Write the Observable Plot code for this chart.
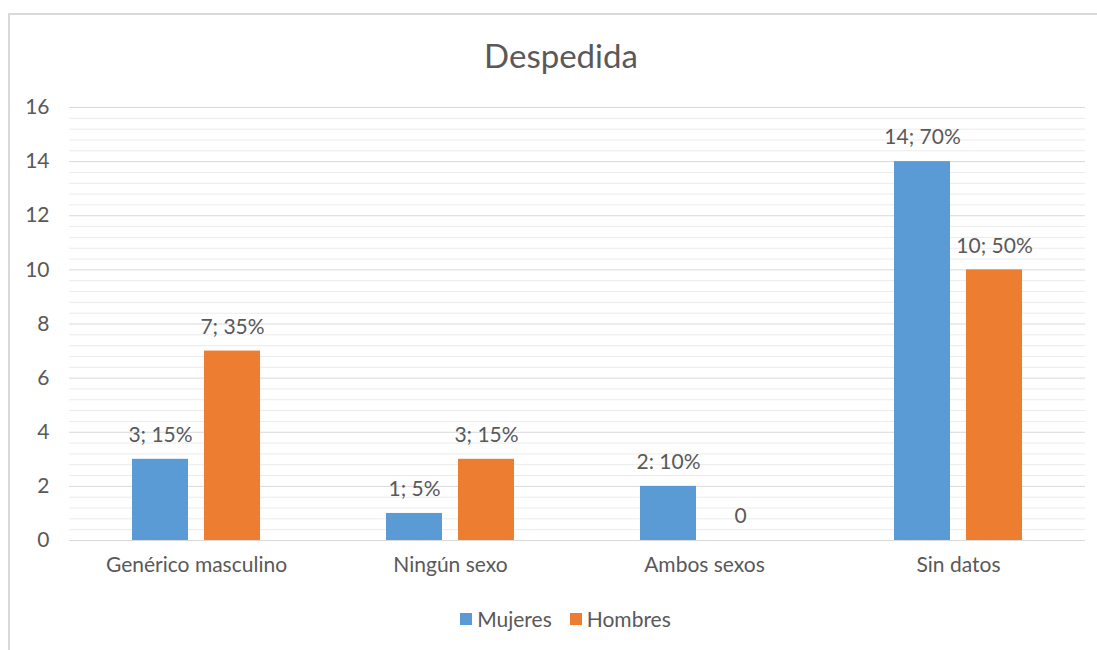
<!DOCTYPE html>
<html>
<head>
<meta charset="utf-8">
<script src="https://cdn.jsdelivr.net/npm/d3@7"></script>
<script src="https://cdn.jsdelivr.net/npm/@observablehq/plot@0.6"></script>
<style>
  html, body { margin: 0; padding: 0; background: #fff; }
  body { width: 1097px; height: 650px; position: relative; overflow: hidden; font-family: Lato, "Open Sans", sans-serif; color: #595959; }
  #frame { position: absolute; left: 8px; top: 13px; width: 1200px; height: 800px; border-left: 2px solid #d9d9d9; border-top: 2px solid #d9d9d9; box-sizing: border-box; }
  #title { position: absolute; left: 361px; width: 400px; top: 35px; text-align: center; font-size: 33px; line-height: 40px; }
  #chart { position: absolute; left: 0; top: 90px; }
  #legend { position: absolute; left: 0; width: 1131px; top: 607px; display: flex; justify-content: center; align-items: center; font-size: 21px; line-height: 24px; }
  .item { display: flex; align-items: center; margin: 0 9px; }
  .sw { width: 12px; height: 12px; margin-right: 5px; }
</style>
</head>
<body>
<div id="frame"></div>
<div id="title">Despedida</div>
<div id="chart"></div>
<div id="legend"></div>
<script>
const categories = ["Genérico masculino", "Ningún sexo", "Ambos sexos", "Sin datos"];
const series = ["Mujeres", "Hombres"];
const mujeres = [3, 1, 2, 14];
const hombres = [7, 3, 0, 10];
const mujeresLabels = ["3; 15%", "1; 5%", "2: 10%", "14; 70%"];
const hombresLabels = ["7; 35%", "3; 15%", "0", "10; 50%"];
const yTicks = [0, 2, 4, 6, 8, 10, 12, 14, 16];
const colors = ["#5B9BD5", "#ED7D31"];

const minorTicks = d3.range(0, 41).map(i => i * 0.4).filter(v => Math.abs(v / 2 - Math.round(v / 2)) > 1e-6);

const data = [];
categories.forEach((c, i) => {
  data.push({category: c, series: series[0], value: mujeres[i], label: mujeresLabels[i]});
  data.push({category: c, series: series[1], value: hombres[i], label: hombresLabels[i]});
});

const chart = Plot.plot({
  width: 1097,
  height: 500,
  marginLeft: 68,
  marginRight: 12,
  marginTop: 17,
  marginBottom: 50,
  style: {fontFamily: "Lato, 'Open Sans', sans-serif", fontSize: "21px", color: "#595959", background: "transparent", overflow: "visible"},
  fx: {domain: categories, padding: 0, label: null},
  x: {domain: series, paddingInner: 0.22, paddingOuter: 0.85, axis: null},
  y: {domain: [0, 16], axis: null},
  color: {domain: series, range: colors},
  marks: [
    Plot.ruleY(minorTicks, {stroke: "#ebebeb", strokeWidth: 1}),
    Plot.ruleY(yTicks, {stroke: "#d9d9d9", strokeWidth: 1}),
    Plot.axisY({ticks: yTicks, tickSize: 0, tickPadding: 20, label: null, tickFormat: d => String(d)}),
    Plot.axisFx({anchor: "bottom", tickSize: 0, tickPadding: 17, label: null}),
    Plot.barY(data, {fx: "category", x: "series", y: "value", fill: "series"}),
    Plot.text(data, {fx: "category", x: "series", y: "value", text: "label", dy: -24, lineAnchor: "middle", fill: "#595959"})
  ]
});
document.getElementById("chart").appendChild(chart);

const legend = document.getElementById("legend");
series.forEach((s, i) => {
  const item = document.createElement("div");
  item.className = "item";
  const sw = document.createElement("div");
  sw.className = "sw";
  sw.style.background = colors[i];
  const t = document.createElement("span");
  t.textContent = s;
  item.appendChild(sw);
  item.appendChild(t);
  legend.appendChild(item);
});
</script>
</body>
</html>
